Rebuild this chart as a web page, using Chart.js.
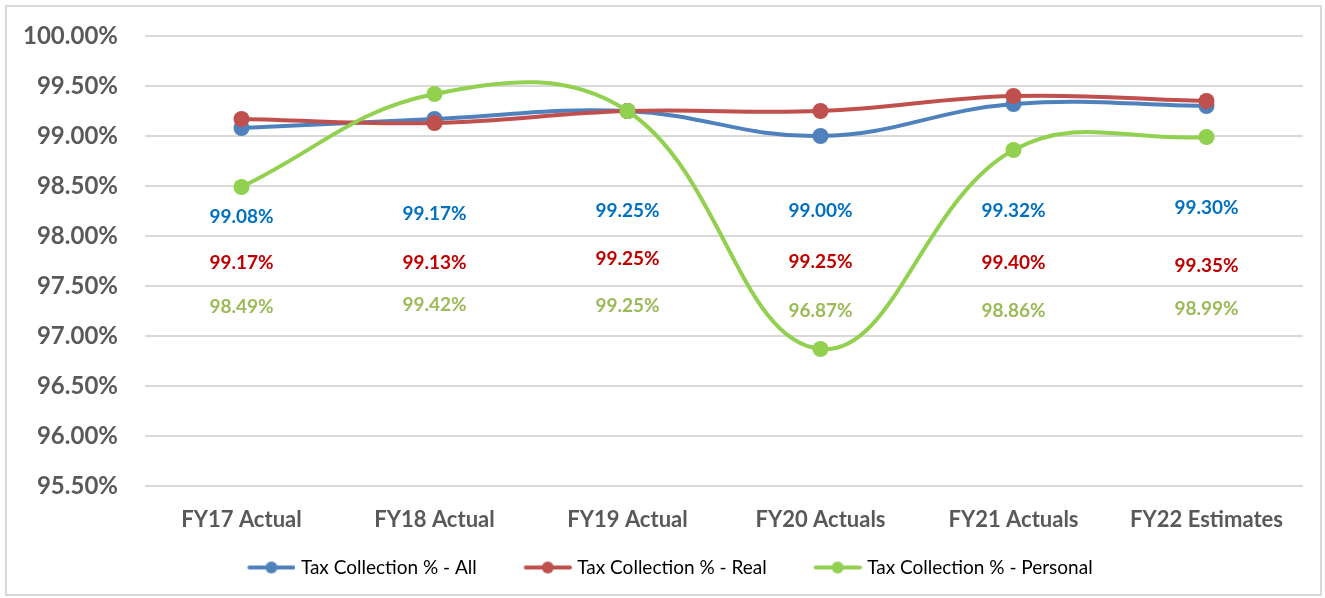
<!DOCTYPE html>
<html>
<head>
<meta charset="utf-8">
<script src="https://cdn.jsdelivr.net/npm/chart.js@4.4.1/dist/chart.umd.min.js"></script>
<style>
  html, body { margin: 0; padding: 0; background: #fff; }
  #wrap { position: relative; width: 1325px; height: 598px; }
  #frame {
    position: absolute; left: 5px; top: 5px; width: 1313px; height: 587px;
    border: 2px solid #d9d9d9; pointer-events: none;
  }
</style>
</head>
<body>
<div id="wrap">
  <canvas id="taxChart" width="1325" height="598"></canvas>
  <div id="frame"></div>
</div>
<script>
(function() {
  const years = ['FY17 Actual', 'FY18 Actual', 'FY19 Actual', 'FY20 Actuals', 'FY21 Actuals', 'FY22 Estimates'];
  const collectAll = [99.08, 99.17, 99.25, 99.00, 99.32, 99.30];
  const collectReal = [99.17, 99.13, 99.25, 99.25, 99.40, 99.35];
  const collectPersonal = [98.49, 99.42, 99.25, 96.87, 98.86, 98.99];

  // value-label rows sit below the lines, one row per series
  const labelRowAll = [98.19, 98.22, 98.25, 98.25, 98.25, 98.28];
  const labelRowReal = [97.73, 97.73, 97.77, 97.74, 97.73, 97.70];
  const labelRowPersonal = [97.29, 97.31, 97.30, 97.25, 97.25, 97.27];

  const series = [
    { label: 'Tax Collection % - All', data: collectAll, rows: labelRowAll, line: '#4f81bd', text: '#0070c0', order: 2 },
    { label: 'Tax Collection % - Real', data: collectReal, rows: labelRowReal, line: '#c0504d', text: '#c00000', order: 1 },
    { label: 'Tax Collection % - Personal', data: collectPersonal, rows: labelRowPersonal, line: '#92d050', text: '#9bbb59', order: 0 }
  ];

  // legend swatch: line with a dot, blank space on the left spaces the items apart
  const ICON_GAP = 33;
  function legendIcon(color) {
    const c = document.createElement('canvas');
    c.width = 56 + ICON_GAP;
    c.height = 16;
    const ox = ICON_GAP + 8;
    const ctx = c.getContext('2d');
    ctx.strokeStyle = color;
    ctx.lineWidth = 4;
    ctx.lineCap = 'round';
    ctx.beginPath();
    ctx.moveTo(ox + 2, 8);
    ctx.lineTo(ox + 46, 8);
    ctx.stroke();
    ctx.fillStyle = color;
    ctx.beginPath();
    ctx.arc(ox + 24, 8, 6, 0, Math.PI * 2);
    ctx.fill();
    return c;
  }

  const valueLabels = {
    id: 'valueLabels',
    afterDatasetsDraw(chart) {
      const ctx = chart.ctx;
      const x = chart.scales.x;
      const y = chart.scales.y;
      ctx.save();
      ctx.font = 'bold 19px Lato';
      ctx.textAlign = 'center';
      ctx.textBaseline = 'middle';
      series.forEach(s => {
        ctx.fillStyle = s.text;
        s.data.forEach((v, i) => {
          ctx.fillText(v.toFixed(2) + '%', x.getPixelForValue(i), y.getPixelForValue(s.rows[i]));
        });
      });
      ctx.restore();
    }
  };

  new Chart(document.getElementById('taxChart'), {
    type: 'line',
    data: {
      labels: years,
      datasets: series.map(s => ({
        label: s.label,
        data: s.data,
        borderColor: s.line,
        backgroundColor: s.line,
        borderWidth: 4,
        pointRadius: 8,
        pointBorderWidth: 0,
        pointBackgroundColor: s.line,
        tension: 0.4,
        order: s.order,
        fill: false
      }))
    },
    options: {
      responsive: false,
      animation: false,
      layout: {
        padding: { left: 0, right: 22, top: 36, bottom: 11 }
      },
      plugins: {
        tooltip: { enabled: false },
        legend: {
          position: 'bottom',
          labels: {
            usePointStyle: true,
            pointStyleWidth: 48 + ICON_GAP,
            padding: 10,
            color: '#404040',
            font: { family: 'Lato', size: 19 },
            generateLabels(chart) {
              return series.map((s, i) => ({
                text: s.label,
                fillStyle: s.line,
                strokeStyle: s.line,
                lineWidth: 0,
                pointStyle: legendIcon(s.line),
                hidden: false,
                datasetIndex: i
              }));
            }
          }
        }
      },
      scales: {
        x: {
          offset: true,
          afterFit(scale) { scale.height = 62; },
          grid: { display: false },
          border: { display: false },
          ticks: {
            color: '#595959',
            font: { family: 'Lato', size: 22, weight: 'bold' },
            padding: 13
          }
        },
        y: {
          min: 95.5,
          max: 100,
          afterFit(scale) {
            scale.width = 145;
            scale.paddingTop = 0;
            scale.paddingBottom = 0;
          },
          border: { display: false },
          grid: { color: '#d9d9d9', lineWidth: 2, drawTicks: false },
          ticks: {
            stepSize: 0.5,
            padding: 27,
            color: '#595959',
            font: { family: 'Lato', size: 24, weight: 'bold' },
            callback: v => v.toFixed(2) + '%'
          }
        }
      }
    },
    plugins: [valueLabels]
  });
})();
</script>
</body>
</html>
